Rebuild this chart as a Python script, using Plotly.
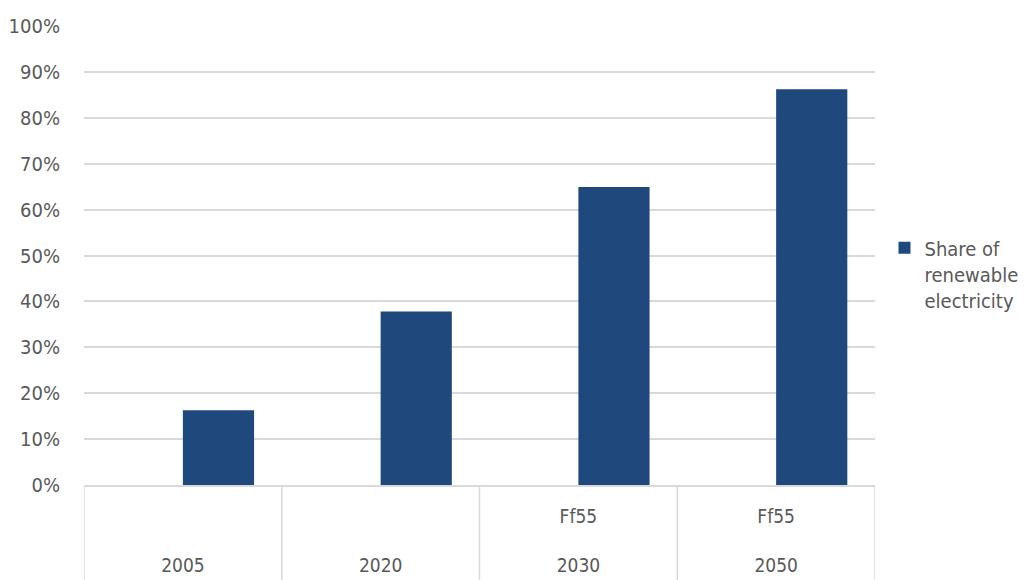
import plotly.graph_objects as go

years = ["2005", "2020", "2030", "2050"]
scenarios = ["", "", "Ff55", "Ff55"]
share_renewable = [0.163, 0.378, 0.649, 0.862]
series_name = "Share of<br>renewable<br>electricity"
y_ticks = [i / 10 for i in range(11)]

NB = "\u00a0"
tick_text = [f"{s if s else NB}<br>{NB}<br>{y}" for y, s in zip(years, scenarios)]

FONT = "DejaVu Sans Condensed, Liberation Sans Narrow, Arial Narrow, sans-serif"
GRAY = "#595959"
BAR = "#1F497D"
LINE = "#D9D9D9"

fig = go.Figure()
fig.add_trace(go.Bar(
    x=years,
    y=share_renewable,
    name=series_name,
    marker=dict(color=BAR, line=dict(width=0)),
    width=0.36,
    offset=0,
    showlegend=True,
))

# category dividers below the axis (Excel multi-level label boxes)
for i in range(len(years) + 1):
    fig.add_shape(type="line", xref="x", yref="paper",
                  x0=i - 0.5, x1=i - 0.5, y0=0, y1=-0.3,
                  line=dict(color=LINE, width=1.5), layer="below")

fig.update_layout(
    width=1018, height=572,
    margin=dict(l=76, r=151, t=18, b=95, autoexpand=False),
    paper_bgcolor="white", plot_bgcolor="white",
    font=dict(family=FONT, size=20, color=GRAY),
    showlegend=True,
    legend=dict(x=1.012, y=0.46, xanchor="left", yanchor="middle", valign="top",
                font=dict(size=20, color=GRAY), tracegroupgap=0,
                bgcolor="rgba(0,0,0,0)"),
)
fig.update_yaxes(range=[0, 1], tickvals=y_ticks, tickformat=".0%",
                 showgrid=True, gridcolor=LINE, gridwidth=1.5,
                 zeroline=False, showline=False, ticks="", ticklabelstandoff=23,
                 automargin=False)
fig.update_xaxes(type="category", range=[-0.5, len(years) - 0.5],
                 tickvals=years, ticktext=tick_text, tickangle=0,
                 tickfont=dict(size=19),
                 showline=True, linecolor=LINE, linewidth=1.5,
                 ticks="", ticklabelstandoff=13, automargin=False, showgrid=False)

fig.write_html("out.html")
